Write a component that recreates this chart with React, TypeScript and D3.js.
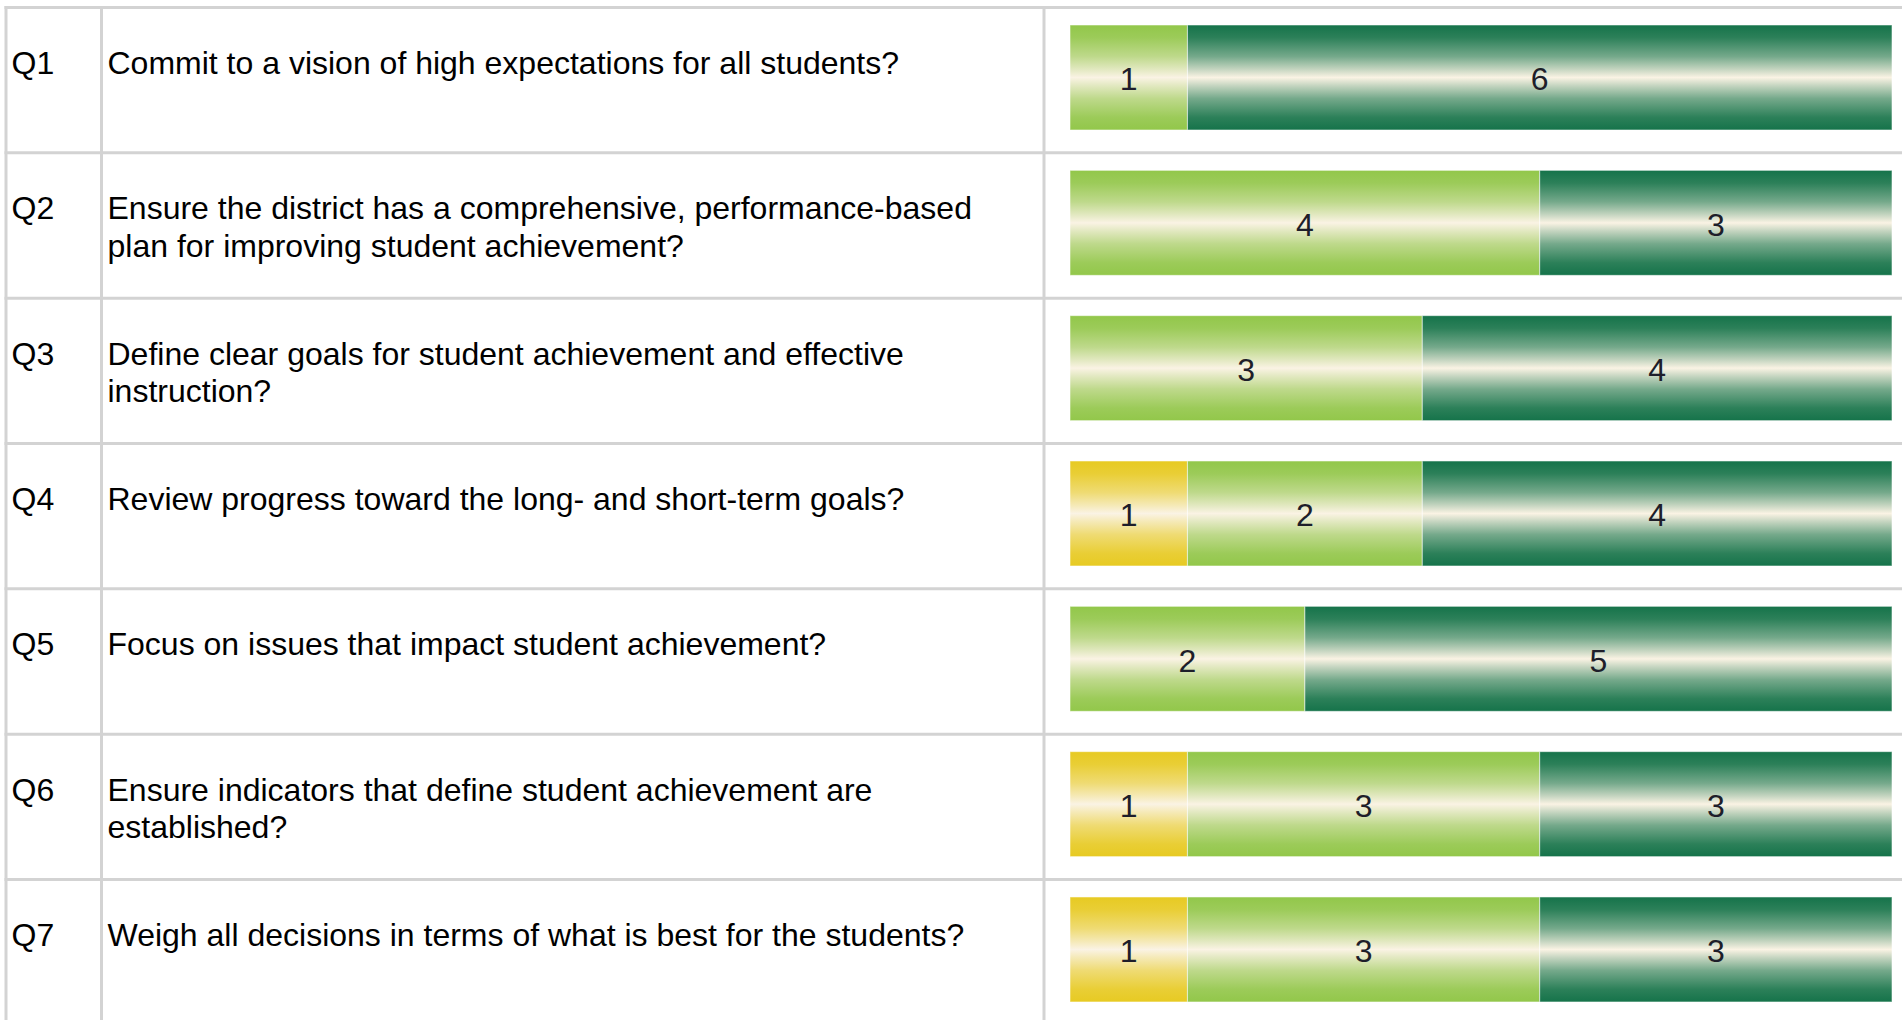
import * as d3 from 'd3';
import { useEffect, useRef } from 'react';

// Question ids and their (wrapped) text
const questionIds = ['Q1', 'Q2', 'Q3', 'Q4', 'Q5', 'Q6', 'Q7'];
const questionLines = [
  ['Commit to a vision of high expectations for all students?'],
  ['Ensure the district has a comprehensive, performance-based', 'plan for improving student achievement?'],
  ['Define clear goals for student achievement and effective', 'instruction?'],
  ['Review progress toward the long- and short-term goals?'],
  ['Focus on issues that impact student achievement?'],
  ['Ensure indicators that define student achievement are', 'established?'],
  ['Weigh all decisions in terms of what is best for the students?'],
];

// Response counts per segment (yellow, light green, dark green)
const yellowCounts = [0, 0, 0, 1, 0, 1, 1];
const lightCounts = [1, 4, 3, 2, 2, 3, 3];
const darkCounts = [6, 3, 4, 4, 5, 3, 3];

const segmentKeys = ['yellow', 'light', 'dark'];
const segmentColors = ['#E7CA22', '#92C74A', '#15734A'];

export default function App() {
  const svgRef = useRef(null);

  useEffect(() => {
    d3.select(svgRef.current).selectAll('*').remove();

    const width = 1902;
    const height = 1020;
    const tableTop = 7.5;
    const rowHeight = 145.33;
    const barLeft = 1070;
    const barRight = 1892;
    const barOffset = 17.5;
    const barHeight = 105;
    const border = '#D3D3D3';
    const font = '"Liberation Sans", Arial, sans-serif';

    const rows = questionIds.map((id, i) => ({
      id,
      lines: questionLines[i],
      yellow: yellowCounts[i],
      light: lightCounts[i],
      dark: darkCounts[i],
    }));

    const total = d3.max(rows, d => d.yellow + d.light + d.dark);

    const x = d3.scaleLinear([0, total], [barLeft, barRight]);
    const y = d3.scaleBand(questionIds, [tableTop, tableTop + rowHeight * questionIds.length]);
    const color = d3.scaleOrdinal(segmentKeys, segmentColors);

    const series = d3.stack().keys(segmentKeys)(rows);

    const svg = d3.select(svgRef.current)
      .attr('viewBox', [0, 0, width, height])
      .attr('width', width)
      .attr('height', height)
      .style('position', 'absolute')
      .style('left', 0)
      .style('top', 0)
      .style('background', '#fff');

    // Vertical gradients: edge colour -> cream in the middle -> edge colour
    const defs = svg.append('defs');
    const cream = '#FAF3E4';
    segmentKeys.forEach(key => {
      const mix = d3.interpolateRgb(color(key), cream);
      const g = defs.append('linearGradient')
        .attr('id', `grad-${key}`)
        .attr('x1', 0).attr('x2', 0).attr('y1', 0).attr('y2', 1);
      [[0, 0], [0.12, 0.1], [0.3, 0.42], [0.42, 0.76], [0.5, 1], [0.58, 0.76], [0.7, 0.42], [0.88, 0.1], [1, 0]]
        .forEach(([o, t]) => g.append('stop').attr('offset', o).attr('stop-color', mix(t)));
    });

    // Table grid lines
    const grid = svg.append('g').attr('stroke', border).attr('stroke-width', 3);
    grid.selectAll('line.h')
      .data([...questionIds.map(id => y(id)), y.range()[1]])
      .join('line')
      .attr('class', 'h')
      .attr('x1', 4.5)
      .attr('x2', width)
      .attr('y1', d => d)
      .attr('y2', d => d);
    grid.selectAll('line.v')
      .data([6, 101.5, 1044])
      .join('line')
      .attr('class', 'v')
      .attr('x1', d => d)
      .attr('x2', d => d)
      .attr('y1', tableTop - 1.5)
      .attr('y2', height);

    // Question labels
    const rowG = svg.append('g')
      .selectAll('g')
      .data(rows)
      .join('g')
      .attr('transform', d => `translate(0,${y(d.id)})`)
      .attr('font-family', font)
      .attr('font-size', 32)
      .attr('fill', '#000');

    rowG.append('text')
      .attr('x', 11.5)
      .attr('y', 66.5)
      .text(d => d.id);

    rowG.append('text')
      .attr('x', 107.5)
      .attr('y', 66.5)
      .selectAll('tspan')
      .data(d => d.lines)
      .join('tspan')
      .attr('x', 107.5)
      .attr('dy', (_, i) => (i ? 37.5 : 0))
      .text(d => d);

    // Stacked bars
    const segs = svg.append('g')
      .selectAll('g')
      .data(series)
      .join('g')
      .attr('fill', d => `url(#grad-${d.key})`)
      .selectAll('g')
      .data(d => d.map(v => ({ ...v, key: d.key })).filter(v => v[1] > v[0]))
      .join('g');

    segs.append('rect')
      .attr('x', d => x(d[0]))
      .attr('y', d => y(d.data.id) + barOffset)
      .attr('width', d => x(d[1]) - x(d[0]))
      .attr('height', barHeight)
      .attr('stroke', 'rgba(255,255,255,0.55)')
      .attr('stroke-width', 1);

    segs.append('text')
      .attr('x', d => (x(d[0]) + x(d[1])) / 2)
      .attr('y', d => y(d.data.id) + barOffset + barHeight / 2)
      .attr('dy', '0.4em')
      .attr('text-anchor', 'middle')
      .attr('font-family', font)
      .attr('font-size', 32)
      .attr('fill', '#1e1e2a')
      .text(d => d[1] - d[0]);
  }, []);

  return <svg ref={svgRef} />;
}
